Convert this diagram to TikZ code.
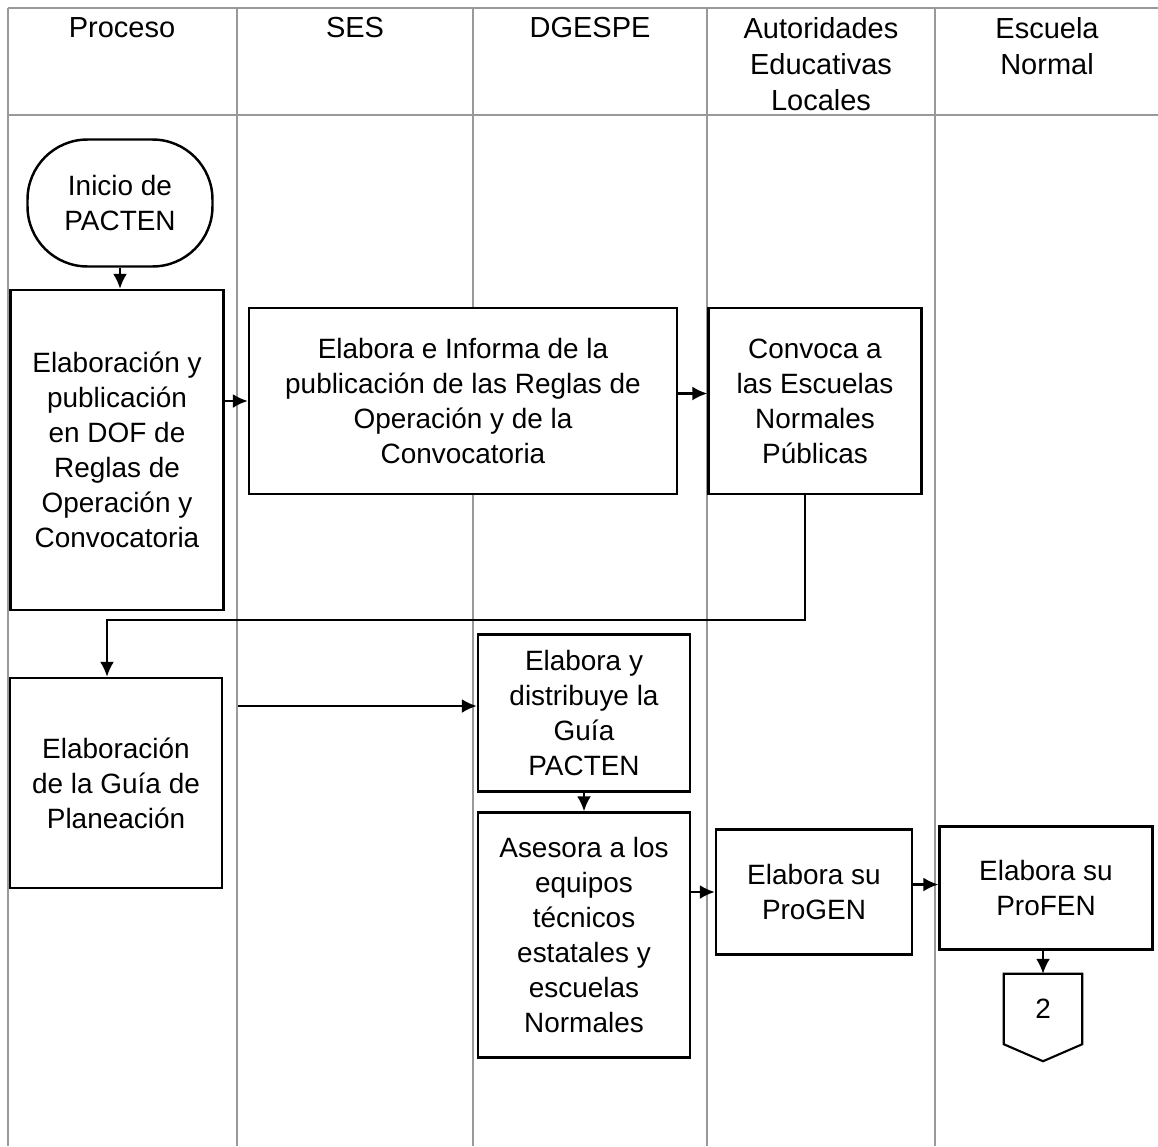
\documentclass[tikz,border=0pt]{standalone}
\usepackage{fontspec}
\setmainfont{Liberation Sans}
\usetikzlibrary{arrows.meta, calc}
\tikzset{>={Latex[length=3mm, width=2.8mm]}}

\tikzset{
    carril/.style = {draw=gray!80, line width=0.8pt},
    caja/.style = {draw, fill=white, line width=1.4pt, align=center, inner sep=2pt,
                   font=\fontsize{15.9}{19.9}\selectfont},
    titulo/.style = {anchor=north, align=center, inner sep=0pt,
                     font=\fontsize{16.5}{20.4}\selectfont},
    flecha/.style = {->, line width=1.3pt}
}

\begin{document}
\begin{tikzpicture}[x=0.02cm, y=-0.02cm]
    \useasboundingbox (0,0) rectangle (1158,1146);
    % carriles
    \draw [carril] (8,8) -- (1158,8);
    \draw [carril, line width=1.4pt] (8,115) -- (1158,115);
    \foreach \xc in {8,237,473,707,935}
        \draw [carril] (\xc,8) -- (\xc,1146);
    \node [titulo] (tproceso) at (122,17) {Proceso};
    \node [titulo] (tses) at (355,17) {SES};
    \node [titulo] (tdgespe) at (590,17) {DGESPE};
    \node [titulo] (tael) at (821,17) {Autoridades\\Educativas\\Locales};
    \node [titulo] (tescuela) at (1047,17) {Escuela\\Normal};
    % nodos
    \node [caja, rounded corners=1.2cm, minimum width=3.7cm, minimum height=2.54cm] (inicio) at (120,203) {Inicio de\\PACTEN};
    \node [caja, minimum width=4.26cm, minimum height=6.4cm] (reglas) at (117,450) {Elaboración y\\publicación\\en DOF de\\Reglas de\\Operación y\\Convocatoria};
    \node [caja, minimum width=8.56cm, minimum height=3.72cm] (informa) at (463,401) {Elabora e Informa de la\\publicación de las Reglas de\\Operación y de la\\Convocatoria};
    \node [caja, minimum width=4.26cm, minimum height=3.72cm] (convoca) at (815,401) {Convoca a\\las Escuelas\\Normales\\Públicas};
    \node [caja, minimum width=4.24cm, minimum height=4.2cm] (guiaplan) at (116,783) {Elaboración\\de la Guía de\\Planeación};
    \node [caja, minimum width=4.24cm, minimum height=3.14cm] (distribuye) at (584,713) {Elabora y\\distribuye la\\Guía\\PACTEN};
    \node [caja, minimum width=4.24cm, minimum height=4.9cm] (asesora) at (584,935) {Asesora a los\\equipos\\técnicos\\estatales y\\escuelas\\Normales};
    \node [caja, minimum width=3.92cm, minimum height=2.5cm] (progen) at (814,892) {Elabora su\\ProGEN};
    \node [caja, minimum width=4.26cm, minimum height=2.46cm] (profen) at (1046,888) {Elabora su\\ProFEN};
    \node [caja, draw=none, fill=none, minimum width=1.52cm, minimum height=1.36cm] (conector) at (1043,1009) {2};
    \draw [line width=1.2pt] (conector.north west) -- (conector.north east) -- (conector.south east)
        -- ($(conector.south)+(0,17)$) -- (conector.south west) -- cycle;
    % flechas
    \coordinate (giro) at (107,620);
    \draw [flecha] (inicio.south) -- (inicio.south |- reglas.north);
    \draw [flecha] (reglas.east |- informa) -- (informa.west);
    \draw [flecha] ([yshift=0.15cm]informa.east) -- ([yshift=0.15cm]convoca.west);
    \draw [flecha] ([xshift=-0.2cm]convoca.south) |- (giro) -- (giro |- guiaplan.north);
    \draw [flecha] ([xshift=0.3cm, yshift=0.14cm]guiaplan.east |- distribuye.west) -- ([yshift=0.14cm]distribuye.west);
    \draw [flecha] (distribuye.south) -- (asesora.north);
    \draw [flecha] (asesora.east |- progen) -- (progen.west);
    \draw [flecha] ([yshift=0.15cm]progen.east) -- ([yshift=0.15cm]progen.east -| profen.west);
    \draw [flecha] (conector.north |- profen.south) -- (conector.north);
\end{tikzpicture}
\end{document}
